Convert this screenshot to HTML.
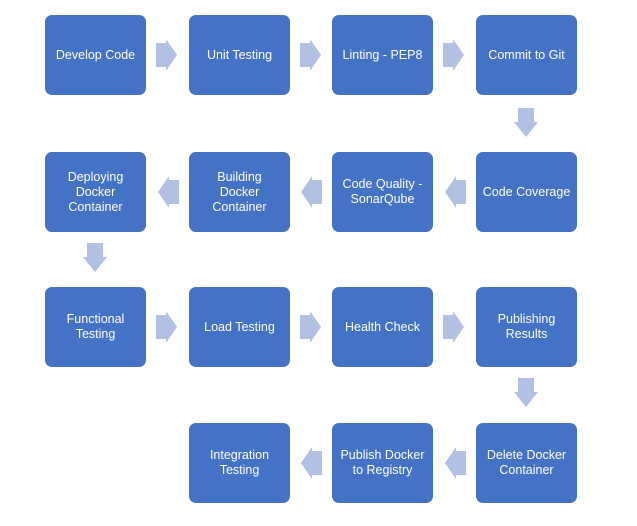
<!DOCTYPE html>
<html><head><style>
body{margin:0;width:637px;height:526px;background:#fff;position:relative;overflow:hidden;font-family:"Liberation Sans",sans-serif}
.b{position:absolute;width:101px;height:80px;background:#4472c4;border-radius:7px;color:#fff;font-size:12.5px;display:flex;align-items:center;justify-content:center;text-align:center;line-height:15px}
svg{position:absolute;left:0;top:0}
</style></head><body>
<div class="b" style="left:45px;top:15px">Develop Code</div>
<div class="b" style="left:189px;top:15px">Unit Testing</div>
<div class="b" style="left:332px;top:15px">Linting - PEP8</div>
<div class="b" style="left:476px;top:15px">Commit to Git</div>
<div class="b" style="left:45px;top:152px">Deploying<br>Docker<br>Container</div>
<div class="b" style="left:189px;top:152px">Building<br>Docker<br>Container</div>
<div class="b" style="left:332px;top:152px">Code Quality -<br>SonarQube</div>
<div class="b" style="left:476px;top:152px">Code Coverage</div>
<div class="b" style="left:45px;top:287px">Functional<br>Testing</div>
<div class="b" style="left:189px;top:287px">Load Testing</div>
<div class="b" style="left:332px;top:287px">Health Check</div>
<div class="b" style="left:476px;top:287px">Publishing<br>Results</div>
<div class="b" style="left:189px;top:423px">Integration<br>Testing</div>
<div class="b" style="left:332px;top:423px">Publish Docker<br>to Registry</div>
<div class="b" style="left:476px;top:423px">Delete Docker<br>Container</div>
<svg width="637" height="526" fill="#b0c1e3">
<defs>
<polygon id="r" points="0,-12 10,-12 10,-16 21,0 10,16 10,12 0,12"/>
<polygon id="d" points="-8,0 8,0 8,14 12,14 0,29 -12,14 -8,14"/>
</defs>
<use href="#r" x="156" y="55"/>
<use href="#r" x="300" y="55"/>
<use href="#r" x="443" y="55"/>
<use href="#d" x="526" y="108"/>
<use href="#r" transform="translate(466,192) scale(-1,1)"/>
<use href="#r" transform="translate(322,192) scale(-1,1)"/>
<use href="#r" transform="translate(179,192) scale(-1,1)"/>
<use href="#d" x="95" y="243"/>
<use href="#r" x="156" y="327"/>
<use href="#r" x="300" y="327"/>
<use href="#r" x="443" y="327"/>
<use href="#d" x="526" y="378"/>
<use href="#r" transform="translate(466,463) scale(-1,1)"/>
<use href="#r" transform="translate(322,463) scale(-1,1)"/>
</svg>
</body></html>
